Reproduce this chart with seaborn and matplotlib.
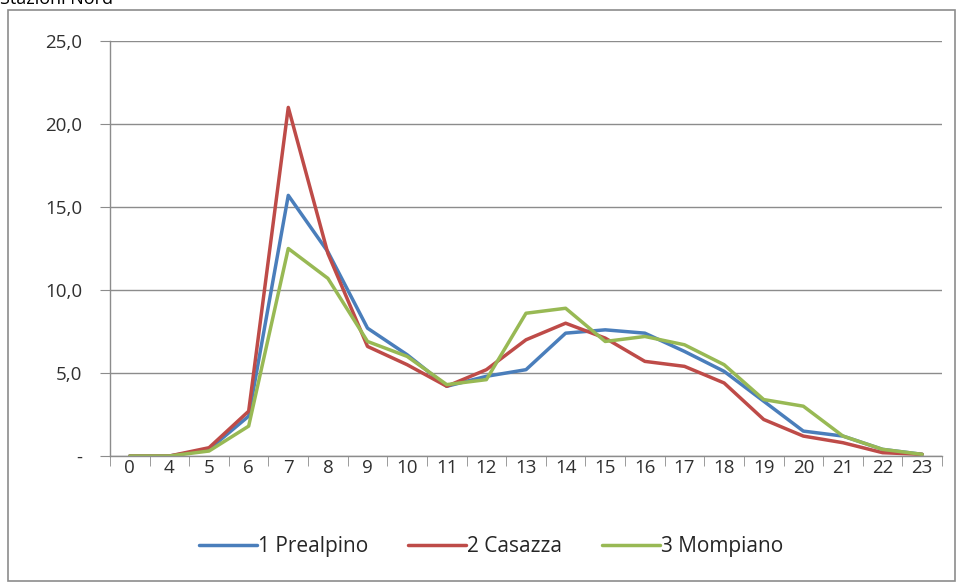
import numpy as np
import pandas as pd
import seaborn as sns
import matplotlib.pyplot as plt
from matplotlib.patches import Rectangle
from matplotlib.ticker import FixedLocator, FuncFormatter

# hourly share (%) per station
hours = ['0', '4', '5', '6', '7', '8', '9', '10', '11', '12', '13', '14',
         '15', '16', '17', '18', '19', '20', '21', '22', '23']
prealpino = [0.0, 0.0, 0.4, 2.4, 15.7, 12.3, 7.7, 6.1, 4.2, 4.8, 5.2, 7.4,
             7.6, 7.4, 6.3, 5.1, 3.3, 1.5, 1.2, 0.4, 0.1]
casazza = [0.0, 0.0, 0.5, 2.7, 21.0, 12.2, 6.6, 5.5, 4.2, 5.2, 7.0, 8.0,
           7.1, 5.7, 5.4, 4.4, 2.2, 1.2, 0.8, 0.2, 0.1]
mompiano = [0.0, 0.0, 0.3, 1.8, 12.5, 10.7, 6.9, 6.0, 4.3, 4.6, 8.6, 8.9,
            6.9, 7.2, 6.7, 5.5, 3.4, 3.0, 1.2, 0.4, 0.1]
stations = ['1 Prealpino', '2 Casazza', '3 Mompiano']
colors = ['#4A7EBB', '#BE4B48', '#98B954']

df = pd.DataFrame({
    'ora': hours * 3,
    'valore': prealpino + casazza + mompiano,
    'stazione': np.repeat(stations, len(hours)),
})

sns.set_style('white')
plt.rcParams['font.family'] = ['Open Sans', 'DejaVu Sans']

fig = plt.figure(figsize=(9.6, 5.82), dpi=100)
ax = fig.add_axes([110 / 960, 1 - 456 / 582, 832 / 960, 415 / 582])

sns.lineplot(data=df, x='ora', y='valore', hue='stazione', palette=colors,
             linewidth=2.5, sort=False, ax=ax)

ax.set_xlim(-0.5, len(hours) - 0.5)
ax.set_ylim(0, 25)
ax.set_yticks([0, 5, 10, 15, 20, 25])
ax.yaxis.set_major_formatter(FuncFormatter(
    lambda v, p: '-' if v == 0 else f'{v:.1f}'.replace('.', ',')))
ax.xaxis.set_minor_locator(FixedLocator(np.arange(-0.5, len(hours), 1.0)))
ax.grid(axis='y', color='#8c8c8c', linewidth=1)
ax.set_axisbelow(True)
for s in ['top', 'right']:
    ax.spines[s].set_visible(False)
for s in ['left', 'bottom']:
    ax.spines[s].set_color('#8c8c8c')
    ax.spines[s].set_linewidth(1)
ax.tick_params(axis='x', which='major', length=0, pad=2, labelsize=13.5,
               labelcolor='#303030')
ax.tick_params(axis='x', which='minor', length=7, color='#8c8c8c', bottom=True)
ax.tick_params(axis='y', length=7, color='#8c8c8c', left=True, pad=13,
               labelsize=13.5, labelcolor='#303030')
ax.set_xlabel('')
ax.set_ylabel('')

ax.legend(title=None, loc='center', bbox_to_anchor=((491 - 110) / 832, -0.219),
          ncol=3, frameon=False, fontsize=15, handlelength=2.8,
          handletextpad=0.05, columnspacing=1.9)

fig.patches.append(Rectangle((8 / 960, 0.002), 947 / 960, 1 - 10 / 582 - 0.002,
                             transform=fig.transFigure, fill=False,
                             edgecolor='#8c8c8c', linewidth=1.2))
fig.text(0.0, 1 - 4 / 582, 'Stazioni Nord', fontsize=13, va='baseline',
         ha='left', color='#000000')

fig.savefig('out.png', dpi=100, facecolor='white')
